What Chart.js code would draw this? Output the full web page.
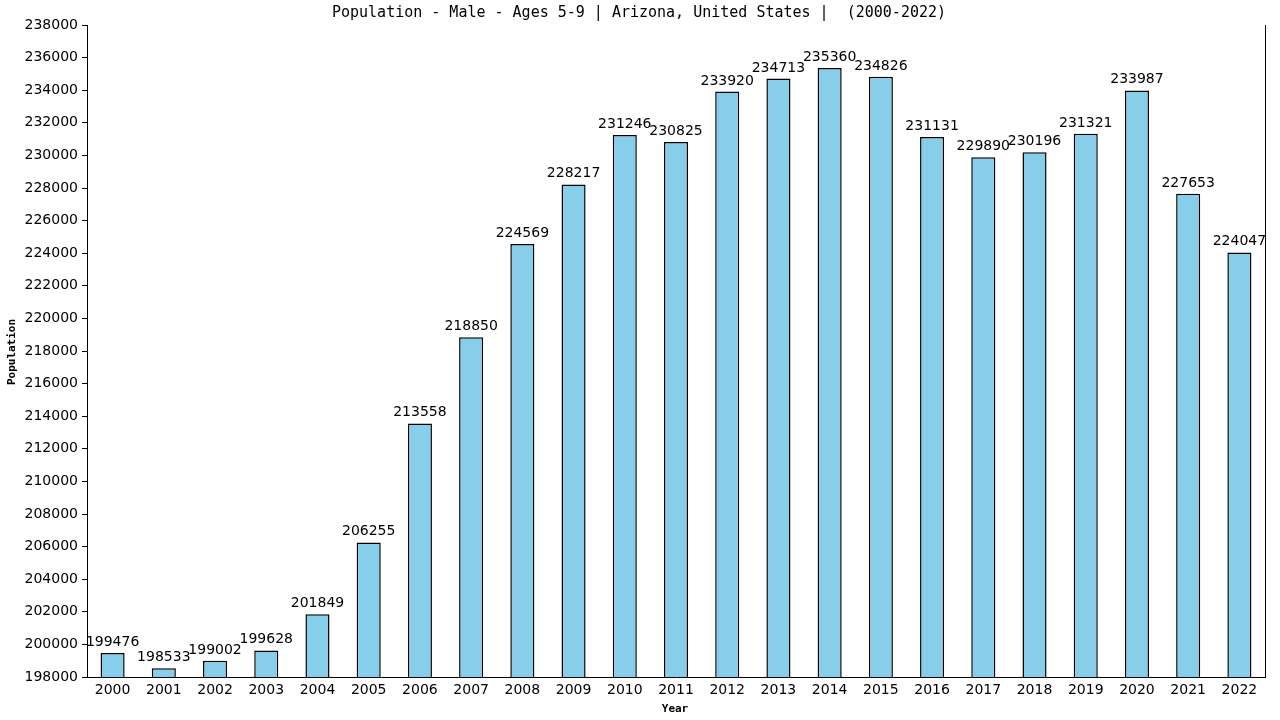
<!DOCTYPE html>
<html>
<head>
<meta charset="utf-8">
<script src="https://cdn.jsdelivr.net/npm/chart.js@4.4.0/dist/chart.umd.min.js"></script>
<style>
html,body{margin:0;padding:0;background:#fff;}
#wrap{width:1280px;height:720px;position:relative;}
</style>
</head>
<body>
<div id="wrap"><canvas id="c" width="1280" height="720"></canvas></div>
<script>
const years = ["2000","2001","2002","2003","2004","2005","2006","2007","2008","2009","2010","2011","2012","2013","2014","2015","2016","2017","2018","2019","2020","2021","2022"];
const population = [199476,198533,199002,199628,201849,206255,213558,218850,224569,228217,231246,230825,233920,234713,235360,234826,231131,229890,230196,231321,233987,227653,224047];
const yMin = 198000, yMax = 238000, yStep = 2000;
const titleText = "Population - Male - Ages 5-9 | Arizona, United States |  (2000-2022)";

const decor = {
  id: 'decor',
  afterDraw(chart) {
    const ctx = chart.ctx, a = chart.chartArea;
    ctx.save();
    ctx.strokeStyle = '#000'; ctx.lineWidth = 1;
    ctx.beginPath(); ctx.moveTo(Math.round(a.right)+0.5, a.top); ctx.lineTo(Math.round(a.right)+0.5, a.bottom); ctx.stroke();
    ctx.fillStyle = '#000';
    ctx.font = '15px "DejaVu Sans Mono"';
    ctx.textAlign = 'center'; ctx.textBaseline = 'middle';
    ctx.fillText(titleText, 639, 13);
    ctx.font = 'bold 11px "DejaVu Sans Mono"';
    ctx.fillText('Year', 675, 709);
    ctx.translate(12, 352);
    ctx.rotate(-Math.PI/2);
    ctx.fillText('Population', 0, 0);
    ctx.restore();
  },
  afterDatasetsDraw(chart) {
    const ctx = chart.ctx;
    const meta = chart.getDatasetMeta(0);
    ctx.save();
    ctx.fillStyle = '#000';
    ctx.font = '14px "DejaVu Sans"';
    ctx.textAlign = 'center'; ctx.textBaseline = 'alphabetic';
    meta.data.forEach((bar, i) => {
      ctx.fillText(String(chart.data.datasets[0].data[i]), bar.x, bar.y - 7);
    });
    ctx.restore();
  }
};

new Chart(document.getElementById('c'), {
  type: 'bar',
  data: {
    labels: years,
    datasets: [{
      data: population,
      backgroundColor: '#87CEEB',
      borderColor: '#000',
      borderWidth: 1.5,
      borderSkipped: 'bottom',
      barPercentage: 0.47,
      categoryPercentage: 1
    }]
  },
  options: {
    responsive: false,
    animation: false,
    devicePixelRatio: 1,
    layout: { padding: { top: 25, right: 15, left: 0, bottom: 0 } },
    plugins: { legend: { display: false }, title: { display: false }, tooltip: { enabled: false } },
    scales: {
      x: {
        grid: { display: false, drawTicks: false },
        border: { display: true, color: '#000', width: 1 },
        ticks: { color: '#000', font: { family: 'DejaVu Sans', size: 14 }, padding: 5, maxRotation: 0, autoSkip: false },
        afterFit(s) { s.height = 43; }
      },
      y: {
        min: yMin, max: yMax,
        grid: { drawOnChartArea: false, drawTicks: true, tickLength: 5, color: '#000' },
        border: { display: true, color: '#000', width: 1 },
        ticks: { stepSize: yStep, color: '#000', font: { family: 'DejaVu Sans', size: 14 }, padding: 4,
          callback: v => String(v) },
        afterFit(s) { s.width = 87; }
      }
    }
  },
  plugins: [decor]
});
</script>
</body>
</html>
